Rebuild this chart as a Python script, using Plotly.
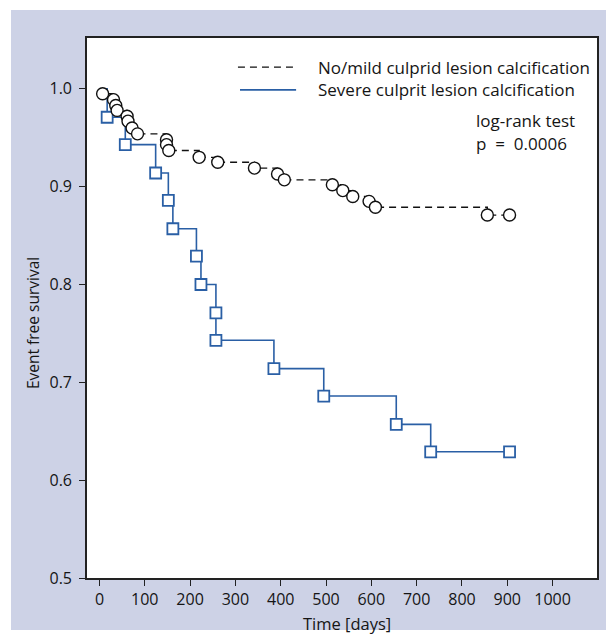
import plotly.graph_objects as go

# Data
mild_days = [0, 7, 31, 36, 39, 61, 63, 72, 84, 148, 148, 153, 220, 261, 342, 393, 408, 514, 537, 559, 595, 609, 856, 905]
mild_surv = [1.0, 0.995, 0.989, 0.983, 0.978, 0.972, 0.967, 0.960, 0.954, 0.948, 0.943, 0.937, 0.930, 0.925, 0.919, 0.913, 0.907, 0.902, 0.896, 0.890, 0.885, 0.879, 0.871, 0.871]

severe_days = [0, 17, 57, 124, 152, 162, 214, 224, 257, 257, 385, 495, 655, 731, 905]
severe_surv = [1.0, 0.971, 0.943, 0.914, 0.886, 0.857, 0.829, 0.800, 0.771, 0.743, 0.714, 0.686, 0.657, 0.629, 0.629]

x_ticks = [0, 100, 200, 300, 400, 500, 600, 700, 800, 900, 1000, 1100]
x_tick_text = ["0", "100", "200", "300", "400", "500", "600", "700", "800", "900", "1000", ""]
y_ticks = [0.5, 0.6, 0.7, 0.8, 0.9, 1.0]

legend_labels = ["No/mild culprid lesion calcification", "Severe culprit lesion calcification"]
stat_lines = ["log-rank test", "p = 0.0006"]
x_title = "Time [days]"
y_title = "Event free survival"

BLUE = "#2a5fa5"
FONT = "Open Sans"
TXT = "#151515"

fig = go.Figure()

fig.add_trace(go.Scatter(
    x=mild_days, y=mild_surv, mode="lines", line_shape="hv",
    line=dict(color="#111111", width=1.3, dash="7px,5px"),
    showlegend=False, hoverinfo="skip"))
fig.add_trace(go.Scatter(
    x=severe_days, y=severe_surv, mode="lines", line_shape="hv",
    line=dict(color=BLUE, width=1.6),
    showlegend=False, hoverinfo="skip"))
fig.add_trace(go.Scatter(
    x=severe_days[1:], y=severe_surv[1:], mode="markers",
    marker=dict(symbol="square", size=11, color="white", line=dict(color=BLUE, width=1.8)),
    showlegend=False))
fig.add_trace(go.Scatter(
    x=mild_days[1:], y=mild_surv[1:], mode="markers",
    marker=dict(symbol="circle", size=12, color="white", line=dict(color="#111111", width=1.4)),
    showlegend=False))

shapes = [
    dict(type="rect", xref="paper", yref="paper", x0=-0.149, x1=1.04, y0=-0.0963, y1=1.052,
         fillcolor="#CDD2E6", line=dict(width=0), layer="below"),
    dict(type="rect", xref="paper", yref="paper", x0=0, x1=1, y0=0, y1=1,
         fillcolor="white", line=dict(width=0), layer="below"),
    dict(type="line", xref="paper", yref="paper", x0=0.296, x1=0.41, y0=0.946, y1=0.946,
         line=dict(color="#111111", width=1.3, dash="7px,5px")),
    dict(type="line", xref="paper", yref="paper", x0=0.300, x1=0.41, y0=0.904, y1=0.904,
         line=dict(color=BLUE, width=1.6)),
]

annotations = [
    dict(xref="paper", yref="paper", x=0.449, y=0.946, text=legend_labels[0], showarrow=False,
         xanchor="left", yanchor="middle", font=dict(family=FONT, size=17, color=TXT)),
    dict(xref="paper", yref="paper", x=0.449, y=0.904, text=legend_labels[1], showarrow=False,
         xanchor="left", yanchor="middle", font=dict(family=FONT, size=17, color=TXT)),
    dict(xref="paper", yref="paper", x=0.758, y=0.848, text=stat_lines[0], showarrow=False,
         xanchor="left", yanchor="middle", font=dict(family=FONT, size=17, color=TXT)),
    dict(xref="paper", yref="paper", x=0.758, y=0.805, text=stat_lines[1].replace(" = ", "&nbsp;&nbsp;=&nbsp;&nbsp;"),
         showarrow=False, xanchor="left", yanchor="middle", font=dict(family=FONT, size=17, color=TXT)),
    dict(xref="paper", yref="paper", x=0.51, y=-0.061, text=x_title, showarrow=False,
         xanchor="center", yanchor="top", borderpad=0, font=dict(family=FONT, size=16.5, color=TXT)),
    dict(xref="paper", yref="paper", x=-0.106, y=0.472, text=y_title, showarrow=False, textangle=-90,
         xanchor="center", yanchor="middle", font=dict(family=FONT, size=15.5, color=TXT)),
]

fig.update_layout(
    width=606, height=628,
    margin=dict(l=79, r=17, t=30, b=58),
    paper_bgcolor="white", plot_bgcolor="white",
    font=dict(family=FONT, size=16, color=TXT),
    shapes=shapes, annotations=annotations,
    showlegend=False,
)
fig.update_xaxes(
    range=[-27.5, 1098], tickvals=x_ticks, ticktext=x_tick_text,
    ticks="outside", ticklen=6, tickwidth=1.3, tickcolor="#222222",
    showline=True, linewidth=1.6, linecolor="#222222", mirror=True,
    showgrid=False, zeroline=False,
    tickfont=dict(family=FONT, size=16, color=TXT),
)
fig.update_yaxes(
    range=[0.5, 1.052], tickvals=y_ticks, tickformat=".1f",
    ticks="outside", ticklen=6, tickwidth=1.3, tickcolor="#222222",
    showline=True, linewidth=1.6, linecolor="#222222", mirror=True,
    showgrid=False, zeroline=False, ticklabelstandoff=4,
    tickfont=dict(family=FONT, size=16, color=TXT),
)

fig.write_html("out.html")
